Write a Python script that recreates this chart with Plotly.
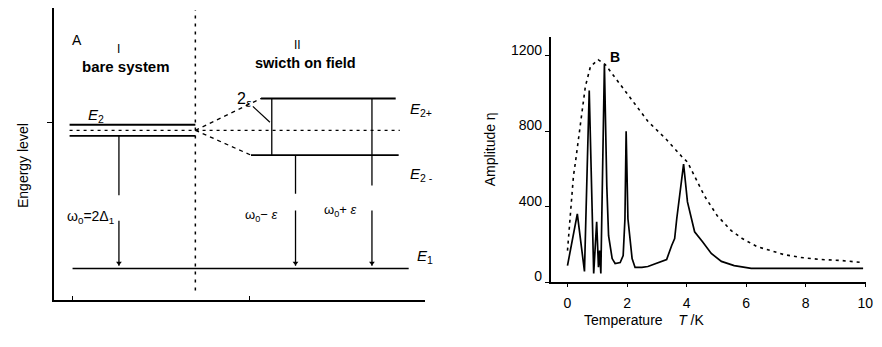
import plotly.graph_objects as go

# ---------------- Panel B data ----------------
temp_solid = [0, 0.33, 0.57, 0.73, 0.88, 0.98, 1.04, 1.08, 1.12, 1.24, 1.32, 1.38, 1.5, 1.6,
              1.77, 1.87, 1.93, 1.97, 2.03, 2.17, 2.27, 2.5, 2.7, 3.0, 3.33, 3.5, 3.6, 3.67,
              3.83, 3.9, 4.03, 4.27, 4.53, 4.83, 5.17, 5.6, 6.17, 7.0, 8.0, 9.0, 9.93]
amp_solid = [89, 363, 58, 1016, 47, 321, 80, 168, 47, 1153, 511, 247, 126, 100,
             105, 142, 337, 800, 337, 126, 79, 79, 84, 100, 121, 195, 232, 337,
             532, 626, 426, 268, 216, 153, 111, 89, 74, 74, 74, 74, 74]
temp_dash = [0, 0.1, 0.2, 0.27, 0.47, 0.6, 0.77, 1.03, 1.27, 1.7, 2.17, 2.7, 3.3, 3.6,
             3.83, 4.03, 4.2, 4.6, 5.03, 5.5, 5.87, 6.37, 6.83, 7.27, 7.83, 8.5, 9.17, 9.93]
amp_dash = [168, 374, 563, 640, 879, 1037, 1142, 1179, 1153, 1063, 968, 853, 760, 705,
            668, 637, 584, 458, 353, 274, 232, 189, 168, 147, 132, 121, 116, 105]
b_xticks = [0, 2, 4, 6, 8, 10]
b_yticks = [0, 400, 800, 1200]

# ---------------- Panel A data (schematic, arbitrary units) ----------------
e1_level = 0.0
e2_upper, e2_mid, e2_lower = 1.04, 1.0, 0.96
e2_plus, e2_minus = 1.23, 0.82
divider_x = 3.82
bare_x = [0.43, 3.82]
mid_x = [0.43, 9.33]
e1_x = [0.51, 9.57]
e2p_x = [5.59, 9.22]
e2m_x = [5.32, 9.30]
split_gap_x = 5.88
leader_x, leader_y = [5.37, 5.83], [1.173, 1.058]
trans_x = [1.76, 6.52, 8.58]
trans_top = [e2_lower, e2_minus, e2_plus]
trans_gap = [(0.53, 0.345), (0.54, 0.42), (0.60, 0.42)]
divider_y = [-0.16, 1.87]

FONT = "Liberation Sans, Arial, sans-serif"
BLK = "black"

# page body adds an 8px margin; lay out the figure in page pixels
OFF = 8
W, H = 882 - OFF, 347 - OFF


def fx(p):
    return (p - OFF) / W


def fy(p):
    return 1 - (p - OFF) / H


fig = go.Figure()


def line_a(x, y, dash="solid", width=1.6):
    fig.add_trace(go.Scatter(x=x, y=y, mode="lines", xaxis="x", yaxis="y",
                             line=dict(color=BLK, width=width, dash=dash),
                             showlegend=False, hoverinfo="skip"))


# bare E2 levels
line_a(bare_x, [e2_upper, e2_upper], width=1.8)
line_a(bare_x, [e2_lower, e2_lower], width=1.8)
line_a(mid_x, [e2_mid, e2_mid], dash="3px,4px", width=1.3)
# E1
line_a(e1_x, [e1_level, e1_level], width=1.7)
# split levels
line_a(e2p_x, [e2_plus, e2_plus], width=1.8)
line_a(e2m_x, [e2_minus, e2_minus], width=1.8)
line_a([divider_x, e2p_x[0]], [e2_mid, e2_plus], dash="4px,4px", width=1.3)
line_a([divider_x, e2m_x[0]], [e2_mid, e2_minus], dash="4px,4px", width=1.3)
# 2 epsilon marker
line_a([split_gap_x, split_gap_x], [e2_plus, e2_minus], width=1.3)
line_a(leader_x, leader_y, width=1.2)
# divider
line_a([divider_x, divider_x], divider_y, dash="3px,5px", width=1.5)
# transitions
for tx, top, (g1, g2) in zip(trans_x, trans_top, trans_gap):
    line_a([tx, tx, None, tx, tx], [top, g1, None, g2, e1_level + 0.02], width=1.3)
fig.add_trace(go.Scatter(x=trans_x, y=[e1_level + 0.04] * 3, mode="markers",
                         xaxis="x", yaxis="y",
                         marker=dict(symbol="triangle-down", size=5, color=BLK),
                         showlegend=False, hoverinfo="skip"))

# Panel B curves
fig.add_trace(go.Scatter(x=temp_dash, y=amp_dash, mode="lines", xaxis="x2", yaxis="y2",
                         line=dict(color=BLK, width=1.6, dash="3px,4px"),
                         showlegend=False, hoverinfo="skip"))
fig.add_trace(go.Scatter(x=temp_solid, y=amp_solid, mode="lines", xaxis="x2", yaxis="y2",
                         line=dict(color=BLK, width=1.7),
                         showlegend=False, hoverinfo="skip"))

ann = []


def ta(text, x, y, ref="", size=13, **kw):
    d = dict(text=text, x=x, y=y, xref="x" + ref, yref="y" + ref, showarrow=False,
             font=dict(family=FONT, size=size, color=BLK))
    d.update(kw)
    ann.append(d)


ta("A", 0.64, 1.655, size=14)
ta("I", 1.74, 1.59, size=12)
ta("<b>bare system</b>", 1.95, 1.46, size=15)
ta("II", 6.58, 1.62, size=12)
ta("<b>swicth on field</b>", 6.79, 1.49, size=14.5)
ta("<i>E</i><sub>2</sub>", 1.15, 1.11, size=15)
ta("2<sub><i>ε</i></sub>", 5.14, 1.22, size=16)
ta("<i>E</i><sub>2+</sub>", 9.9, 1.15, size=15)
ta("<i>E</i><sub>2 -</sub>", 9.92, 0.68, size=15)
ta("ω<sub>0</sub>=2Δ<sub>1</sub>", 1.0, 0.374, size=14)
ta("ω<sub>0</sub>− <i>ε</i>", 5.59, 0.38, size=13)
ta("ω<sub>0</sub>+ <i>ε</i>", 7.73, 0.417, size=13)
ta("<b>B</b>", 1.6, 1195, ref="2", size=14)

# labels placed in page coordinates
ann.append(dict(text="<i>E</i><sub>1</sub>", x=fx(428), y=fy(270), xref="paper",
                yref="paper", showarrow=False, font=dict(family=FONT, size=15, color=BLK)))
ann.append(dict(text="Engergy level", x=fx(13), y=fy(166), xref="paper", yref="paper",
                showarrow=False, textangle=-90, font=dict(family=FONT, size=14, color=BLK)))
ann.append(dict(text="Amplitude η", x=fx(494), y=fy(150), xref="paper", yref="paper",
                showarrow=False, textangle=-90, font=dict(family=FONT, size=14, color=BLK)))
ann.append(dict(text="Temperature    <i>T</i> /K", x=fx(712), y=fy(332), xref="paper",
                yref="paper", showarrow=False, font=dict(family=FONT, size=14, color=BLK)))

fig.update_layout(
    width=W, height=H, margin=dict(l=0, r=0, t=0, b=0),
    paper_bgcolor="white", plot_bgcolor="white",
    font=dict(family=FONT, size=14, color=BLK),
    annotations=ann,
    xaxis=dict(domain=[fx(54), fx(428)], range=[0, 10], showgrid=False, zeroline=False,
               showline=True, linecolor=BLK, linewidth=1.6, tickvals=[0.51, 5.27, 10],
               ticktext=["", "", ""], ticks="inside", ticklen=4, tickcolor=BLK,
               anchor="y"),
    yaxis=dict(domain=[fy(302), fy(8)], range=[-0.23, 1.885], showgrid=False,
               zeroline=False, showline=True, linecolor=BLK, linewidth=1.6,
               tickvals=[1.058], ticktext=[""], ticks="outside", ticklen=5, tickcolor=BLK,
               anchor="x"),
    xaxis2=dict(domain=[fx(555), fx(873)], range=[-0.567, 10.03], showgrid=False,
                zeroline=False, showline=True, linecolor=BLK, linewidth=1.5,
                tickvals=b_xticks, ticks="outside", ticklen=3, tickcolor=BLK,
                tickfont=dict(family=FONT, size=14, color=BLK), ticklabelstandoff=4,
                ticklabeloverflow="allow", anchor="y2"),
    yaxis2=dict(domain=[fy(284), fy(37)], range=[0, 1300], showgrid=False,
                zeroline=False, showline=True, linecolor=BLK, linewidth=1.5,
                tickvals=b_yticks, ticks="outside", ticklen=4, tickcolor=BLK,
                tickfont=dict(family=FONT, size=14, color=BLK), ticklabelshift=-6,
                anchor="x2"),
)

fig.write_html("out.html")
